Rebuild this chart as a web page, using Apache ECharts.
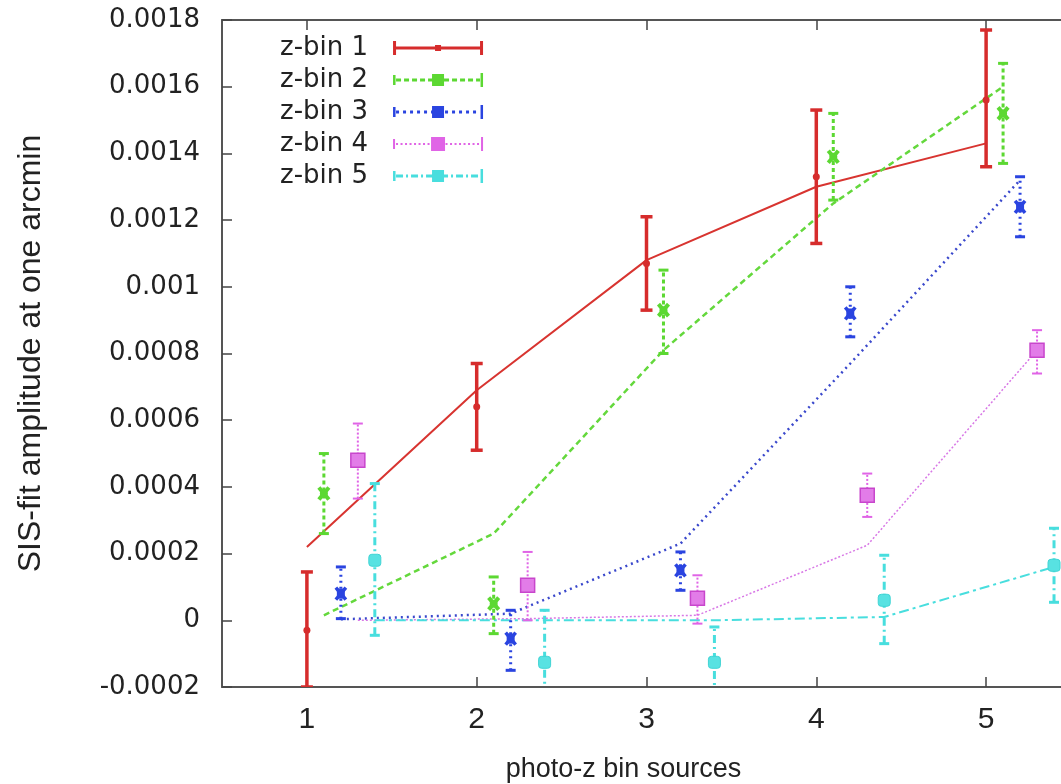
<!DOCTYPE html>
<html><head><meta charset="utf-8">
<script src="https://cdn.jsdelivr.net/npm/echarts@6/dist/echarts.min.js"></script>
<style>html,body{margin:0;padding:0;background:#fff}#c{width:1061px;height:784px}</style>
</head><body><div id="c"></div>
<script>
// ---- data ----
const binCentres = [1, 2, 3, 4, 5];
const xTickLabels = ['1', '2', '3', '4', '5'];
const yTickLabels = ['-0.0002', '0', '0.0002', '0.0004', '0.0006', '0.0008', '0.001', '0.0012', '0.0014', '0.0016', '0.0018'];
const binNames = ['z-bin 1', 'z-bin 2', 'z-bin 3', 'z-bin 4', 'z-bin 5'];
const binOffsets = [0, 0.1, 0.2, 0.3, 0.4];

const zbin1Value = [-0.00003, 0.00064, 0.00107, 0.00133, 0.00156];
const zbin1Low   = [-0.0002, 0.00051, 0.00093, 0.00113, 0.00136];
const zbin1High  = [0.000145, 0.00077, 0.00121, 0.00153, 0.00177];
const zbin1Model = [0.00022, 0.00069, 0.00108, 0.0013, 0.00143];

const zbin2Value = [0.00038, 0.00005, 0.00093, 0.00139, 0.00152];
const zbin2Low   = [0.00026, -0.00004, 0.0008, 0.00126, 0.00137];
const zbin2High  = [0.0005, 0.00013, 0.00105, 0.00152, 0.00167];
const zbin2Model = [0.000015, 0.00026, 0.00081, 0.00125, 0.0016];

const zbin3Value = [0.00008, -0.000055, 0.00015, 0.00092, 0.00124];
const zbin3Low   = [0.000005, -0.00015, 0.00009, 0.00085, 0.00115];
const zbin3High  = [0.00016, 0.00003, 0.000205, 0.001, 0.00133];
const zbin3Model = [0.000003, 0.00002, 0.00023, 0.00077, 0.00132];

const zbin4Value = [0.00048, 0.000105, 0.000066, 0.000375, 0.00081];
const zbin4Low   = [0.000365, 0.0, -0.00001, 0.00031, 0.00074];
const zbin4High  = [0.00059, 0.000205, 0.000135, 0.00044, 0.00087];
const zbin4Model = [0.0, 0.000005, 0.000015, 0.000225, 0.00081];

const zbin5Value = [0.00018, -0.000126, -0.000126, 0.00006, 0.000165];
const zbin5Low   = [-0.000045, -0.00028, -0.00023, -0.00007, 0.000054];
const zbin5High  = [0.00041, 0.00003, -0.00002, 0.000195, 0.000276];
const zbin5Model = [0.0, 0.0, 0.0, 0.00001, 0.00016];

const allValues = [zbin1Value, zbin2Value, zbin3Value, zbin4Value, zbin5Value];
const allLows = [zbin1Low, zbin2Low, zbin3Low, zbin4Low, zbin5Low];
const allHighs = [zbin1High, zbin2High, zbin3High, zbin4High, zbin5High];
const allModels = [zbin1Model, zbin2Model, zbin3Model, zbin4Model, zbin5Model];

// ---- styles ----
const colors = ['#d62c2c', '#5cd832', '#2a44e0', '#e064e6', '#48dede'];
const modelColors = ['#d83430', '#64d83c', '#3a48cc', '#d878e6', '#48dede'];
const modelStyles = [
  { width: 2, type: 'solid' },
  { width: 2.5, type: [6, 4] },
  { width: 2.5, type: [2, 4] },
  { width: 1.5, type: [2, 2] },
  { width: 2, type: [10, 4, 3, 4] }
];
const errStyles = [
  { w: 3.5, dash: null, cap: 6 },
  { w: 3, dash: [4, 3], cap: 5 },
  { w: 3, dash: [2, 4], cap: 5 },
  { w: 2, dash: [2, 2], cap: 5 },
  { w: 3, dash: [8, 4, 2, 4], cap: 5 }
];

function markerShapes(i, c) {
  const col = colors[i];
  const [cx, cy] = c;
  if (i === 0) return [{ type: 'circle', shape: { cx, cy, r: 3.5 }, style: { fill: col } }];
  if (i === 1) return [
    { type: 'line', shape: { x1: cx - 5, y1: cy - 6, x2: cx + 5, y2: cy + 6 }, style: { stroke: col, lineWidth: 4 } },
    { type: 'line', shape: { x1: cx - 5, y1: cy + 6, x2: cx + 5, y2: cy - 6 }, style: { stroke: col, lineWidth: 4 } },
    { type: 'circle', shape: { cx, cy, r: 4 }, style: { fill: col } }
  ];
  if (i === 2) return [
    { type: 'line', shape: { x1: cx - 5, y1: cy - 6, x2: cx + 5, y2: cy + 6 }, style: { stroke: col, lineWidth: 3.5 } },
    { type: 'line', shape: { x1: cx - 5, y1: cy + 6, x2: cx + 5, y2: cy - 6 }, style: { stroke: col, lineWidth: 3.5 } },
    { type: 'rect', shape: { x: cx - 4, y: cy - 5, width: 8, height: 10 }, style: { fill: col } }
  ];
  if (i === 3) return [
    { type: 'rect', shape: { x: cx - 7, y: cy - 7, width: 14, height: 14 }, style: { fill: '#e27ce8', stroke: '#c846cc', lineWidth: 1.5 } }
  ];
  return [
    { type: 'rect', shape: { x: cx - 6, y: cy - 6, width: 12, height: 12, r: 3 }, style: { fill: '#58e2e2', stroke: '#40d4d4', lineWidth: 1 } }
  ];
}

function makeErrRender(i) {
  const st = errStyles[i];
  const col = colors[i];
  return function (params, api) {
    const x = api.value(0);
    const pc = api.coord([x, api.value(1)]);
    const pl = api.coord([x, api.value(2)]);
    const ph = api.coord([x, api.value(3)]);
    const children = [
      { type: 'line', shape: { x1: pl[0], y1: pl[1], x2: ph[0], y2: ph[1] }, style: { stroke: col, lineWidth: st.w, lineDash: st.dash, lineCap: 'butt' } },
      { type: 'line', shape: { x1: pl[0] - st.cap, y1: pl[1], x2: pl[0] + st.cap, y2: pl[1] }, style: { stroke: col, lineWidth: st.w } },
      { type: 'line', shape: { x1: ph[0] - st.cap, y1: ph[1], x2: ph[0] + st.cap, y2: ph[1] }, style: { stroke: col, lineWidth: st.w } }
    ].concat(markerShapes(i, pc));
    return { type: 'group', children };
  };
}

// legend icons (90 x 14 box), built from clockwise rectangles
function rect(x, y, w, h) { return 'M' + x + ' ' + y + 'h' + w + 'v' + h + 'h' + (-w) + 'z'; }
function dashedLine(pattern, th) {
  let s = '', x = 3, k = 0;
  const y = 7 - th / 2;
  while (x < 87) {
    const len = pattern[k % pattern.length];
    if (k % 2 === 0) s += rect(x, y, Math.min(len, 87 - x), th);
    x += len; k++;
  }
  return s;
}
const legendIcons = [
  'path://' + rect(0, 0, 3, 14) + rect(87, 0, 3, 14) + rect(0, 5.5, 90, 3) + rect(42, 4, 6, 6),
  'path://' + rect(0, 2, 2.5, 10) + rect(87.5, 0, 2.5, 14) + dashedLine([5, 3], 3) + rect(39, 1, 12, 12),
  'path://' + rect(0, 2, 2.5, 10) + rect(87.5, 0, 2.5, 14) + dashedLine([3, 4], 3) + rect(39, 1, 12, 12),
  'path://' + rect(0, 2, 2, 10) + rect(88, 0, 2, 14) + dashedLine([2, 2.5], 2) + rect(38, 0, 14, 14),
  'path://' + rect(0, 2, 2.5, 10) + rect(87.5, 0, 2.5, 14) + dashedLine([7, 3, 2, 3], 3) + rect(39, 1, 12, 12)
];

// ---- series ----
const series = [];
for (let i = 0; i < 5; i++) {
  series.push({
    name: binNames[i] + ' model',
    type: 'line',
    data: binCentres.map((x, j) => [x + binOffsets[i], allModels[i][j]]),
    symbol: 'none',
    showSymbol: false,
    silent: true,
    z: 2,
    lineStyle: { color: modelColors[i], width: modelStyles[i].width, type: modelStyles[i].type },
    itemStyle: { color: modelColors[i] }
  });
}
for (let i = 0; i < 5; i++) {
  series.push({
    name: binNames[i],
    type: 'custom',
    clip: true,
    z: 3,
    itemStyle: { color: colors[i] },
    encode: { x: 0, y: [1, 2, 3] },
    data: binCentres.map((x, j) => [x + binOffsets[i], allValues[i][j], allLows[i][j], allHighs[i][j]]),
    renderItem: makeErrRender(i)
  });
}

const axisColor = '#555';
const chart = echarts.init(document.getElementById('c'), null, { renderer: 'canvas' });
chart.setOption({
  backgroundColor: '#fff',
  animation: false,
  grid: { left: 222, right: -10, top: 20, bottom: 97, containLabel: false, outerBoundsMode: 'none' },
  legend: {
    orient: 'vertical', left: 280, top: 32, padding: 0, itemGap: 0,
    itemWidth: 90, itemHeight: 14, align: 'right', selectedMode: false,
    textStyle: { fontFamily: 'DejaVu Sans', fontSize: 26, color: '#222', lineHeight: 32, padding: [0, 20, 0, 0] },
    itemStyle: { borderWidth: 0 },
    data: binNames.map((n, i) => ({ name: n, icon: legendIcons[i], itemStyle: { color: colors[i], borderWidth: 0 } }))
  },
  xAxis: [{
    type: 'value', min: 0.5, max: 5.5, interval: 0.5, position: 'bottom',
    axisLine: { show: true, onZero: false, lineStyle: { color: axisColor, width: 2 } },
    axisTick: { show: true, inside: true, length: 10, customValues: binCentres, lineStyle: { color: '#444', width: 1.5 } },
    axisLabel: {
      customValues: binCentres,
      formatter: (v) => xTickLabels[binCentres.indexOf(Math.round(v))],
      fontFamily: 'Liberation Sans', fontSize: 30, color: '#222', margin: 18
    },
    splitLine: { show: false },
    name: 'photo-z bin sources', nameLocation: 'middle', nameGap: 69,
    nameTextStyle: { fontFamily: 'Liberation Sans', fontSize: 27, color: '#222', padding: [0, 46, 0, 0] }
  }, {
    type: 'value', min: 0.5, max: 5.5, interval: 0.5, position: 'top',
    axisLine: { show: true, onZero: false, lineStyle: { color: axisColor, width: 2 } },
    axisTick: { show: true, inside: true, length: 10, customValues: binCentres, lineStyle: { color: '#444', width: 1.5 } },
    axisLabel: { show: false },
    splitLine: { show: false }
  }],
  yAxis: [{
    type: 'value', min: -0.0002, max: 0.0018, interval: 0.0002, position: 'left',
    axisLine: { show: true, onZero: false, lineStyle: { color: axisColor, width: 2 } },
    axisTick: { show: true, inside: true, length: 10, lineStyle: { color: '#444', width: 1.5 } },
    axisLabel: {
      formatter: (v) => yTickLabels[Math.round((v + 0.0002) / 0.0002)],
      fontFamily: 'DejaVu Sans', fontSize: 26, color: '#222', margin: 22
    },
    splitLine: { show: false },
    name: 'SIS-fit amplitude at one arcmin', nameLocation: 'middle', nameGap: 175, nameRotate: 90,
    nameTextStyle: { fontFamily: 'Liberation Sans', fontSize: 32, color: '#222' }
  }],
  series: series
});
</script>
</body></html>
